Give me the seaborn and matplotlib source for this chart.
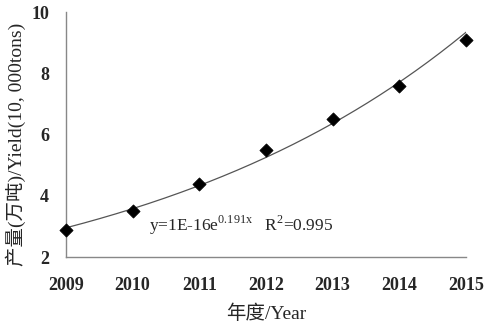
import numpy as np
import pandas as pd
import matplotlib
matplotlib.use("Agg")
import matplotlib.pyplot as plt
import seaborn as sns

years = [2009, 2010, 2011, 2012, 2013, 2014, 2015]
yield_vals = [2.9, 3.5, 4.4, 5.5, 6.5, 7.6, 9.1]
y_ticks = [2, 4, 6, 8, 10]
equation_text = r"y=1E-16e$^{\mathregular{0.191x}}$   R$^{\mathregular{2}}$=0.995"

sns.set_style("white")
plt.rcParams["font.family"] = ["Liberation Serif", "Noto Sans CJK SC"]
plt.rcParams["mathtext.fontset"] = "custom"
plt.rcParams["mathtext.rm"] = "Liberation Serif"

df = pd.DataFrame({"year": years, "yield": yield_vals})

# exponential trend line (least squares on log values)
b, ln_a = np.polyfit(df["year"], np.log(df["yield"]), 1)
xs = np.linspace(years[0], years[-1], 200)
trend = pd.DataFrame({"year": xs, "yield": np.exp(ln_a + b * xs)})

fig = plt.figure(figsize=(4.88, 3.25), dpi=100)
ax = fig.add_axes([0.135, 0.209, 0.82, 0.754])

sns.lineplot(data=trend, x="year", y="yield", ax=ax, color="#555555", lw=0.9)
sns.scatterplot(data=df, x="year", y="yield", ax=ax, marker="D", s=45,
                color="black", edgecolor="black", zorder=3, clip_on=False)

ax.set_xlim(2009, 2015)
ax.set_ylim(2, 10)
ax.set_xticks(years)
ax.set_yticks(y_ticks)
ax.set_xticklabels([str(y) for y in years], fontsize=13, fontweight="bold")
ax.set_yticklabels([str(t) for t in y_ticks], fontsize=13, fontweight="bold")
ax.tick_params(axis="x", direction="in", length=4, color="#888888", pad=14)
ax.tick_params(axis="y", length=0, pad=12)

for side in ["top", "right"]:
    ax.spines[side].set_visible(False)
for side in ["left", "bottom"]:
    ax.spines[side].set_color("#888888")
    ax.spines[side].set_linewidth(1.0)

ax.set_xlabel("年度/Year", fontsize=14, labelpad=8)
ax.set_ylabel("产量(万吨)/Yield(10, 000tons)", fontsize=14, labelpad=8)
ax.yaxis.set_label_coords(-0.1, 0.46)

ax.text(2010.25, 3.05, equation_text, fontsize=12.5, ha="left", va="center")

fig.savefig("out.png", dpi=100)
